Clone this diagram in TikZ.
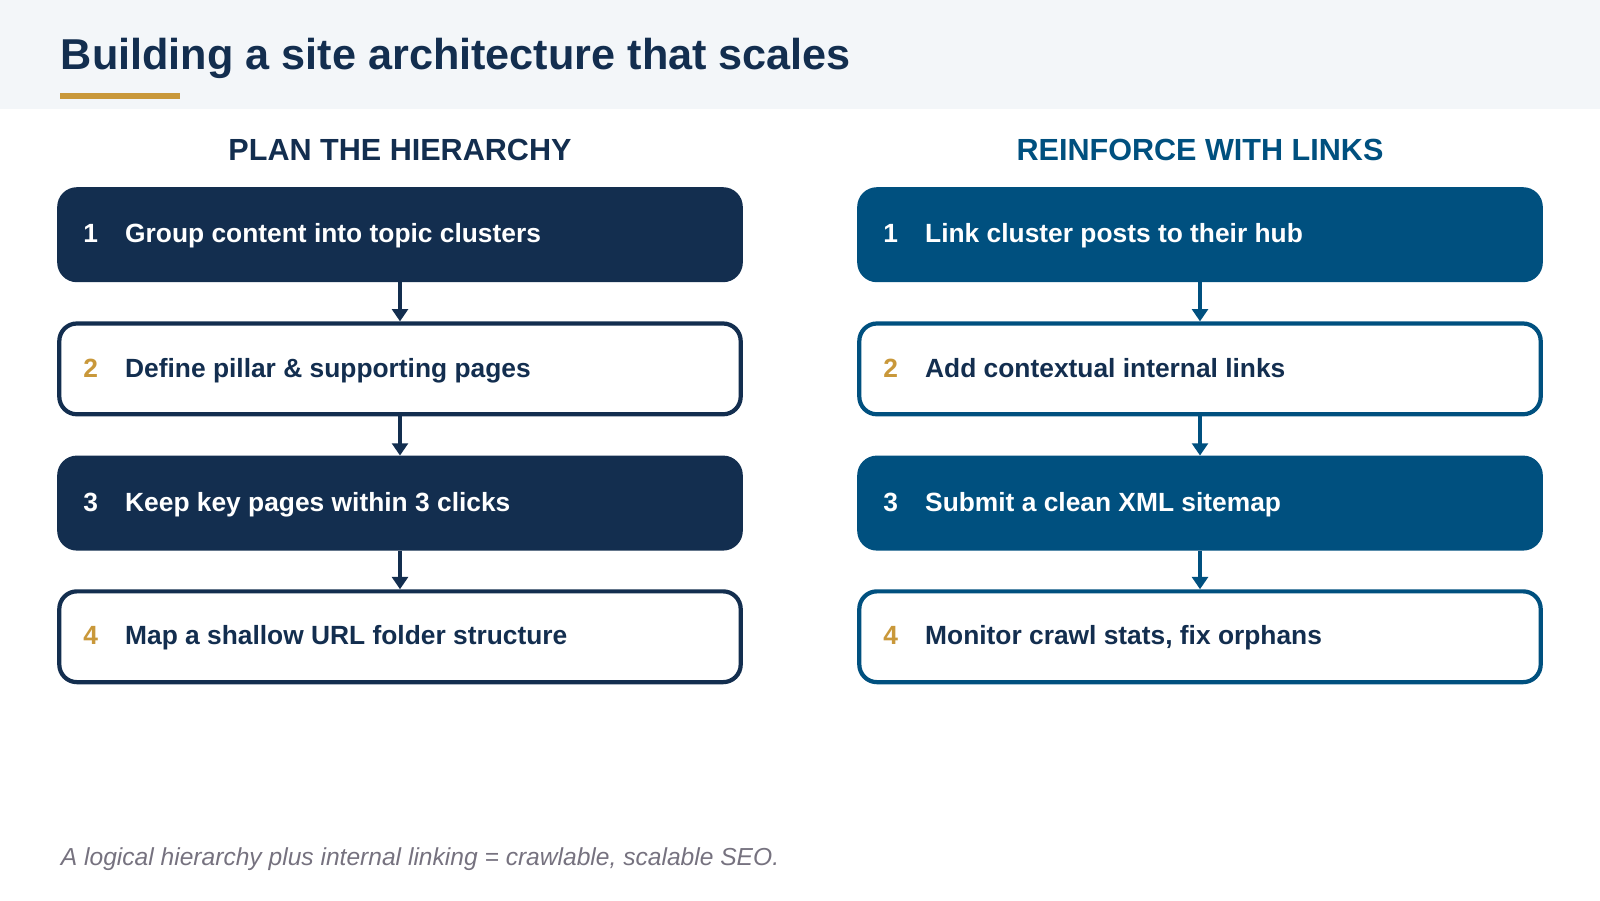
\documentclass[tikz,border=0pt]{standalone}
\usepackage{fontspec}
\setmainfont{Liberation Sans}
\usetikzlibrary{arrows.meta}
\definecolor{navy}{HTML}{132E4F}
\definecolor{blu}{HTML}{00507F}
\definecolor{gold}{HTML}{C9983A}
\definecolor{band}{HTML}{F3F6F9}
\definecolor{foot}{HTML}{76727F}
\begin{document}
\begin{tikzpicture}[x=0.010204cm,y=-0.010204cm,
  box/.style={draw=#1,line width=1.2pt,rounded corners=5pt,minimum width=6.68*1.0204cm,minimum height=0.89*1.0204cm,inner sep=0pt},
  filled/.style={box=#1,fill=#1},
  open/.style={box=#1,fill=white},
  num/.style={anchor=base west,inner sep=0pt,font=\fontsize{7.5pt}{9pt}\selectfont\bfseries},
  lbl/.style={anchor=base west,inner sep=0pt,font=\fontsize{7.5pt}{9pt}\selectfont\bfseries},
  arr/.style={draw=#1,line width=1.2pt,-{Triangle[length=3.5pt,width=4.5pt]}}]
\useasboundingbox (0,0) rectangle (1568,882);
\fill[band] (0,0) rectangle (1568,107);
\node[anchor=base west,inner sep=0,text=navy,font=\fontsize{12.3pt}{14pt}\selectfont\bfseries] (title) at (59,68) {Building a site architecture that scales};
\fill[gold] (59,91) rectangle (176,97);
\node[text=navy,font=\fontsize{8.7pt}{10pt}\selectfont\bfseries] (hl) at (392,147) {PLAN THE HIERARCHY};
\node[text=blu,font=\fontsize{8.7pt}{10pt}\selectfont\bfseries] (hr) at (1176,147) {REINFORCE WITH LINKS};
\node[filled=navy] (l1) at (392,230) {};
\node[open=navy] (l2) at (392,361.5) {};
\node[filled=navy] (l3) at (392,493) {};
\node[open=navy] (l4) at (392,624) {};
\node[filled=blu] (r1) at (1176,230) {};
\node[open=blu] (r2) at (1176,361.5) {};
\node[filled=blu] (r3) at (1176,493) {};
\node[open=blu] (r4) at (1176,624) {};
\foreach \a/\b in {l1/l2,l2/l3,l3/l4} \draw[arr=navy] (\a) -- (\b);
\foreach \a/\b in {r1/r2,r2/r3,r3/r4} \draw[arr=blu] (\a) -- (\b);
\node[num,text=white] (n1) at (81,238) {1};
\node[lbl,text=white] (t1) at (122,238) {Group content into topic clusters};
\node[num,text=gold] (n2) at (81,370) {2};
\node[lbl,text=navy] (t2) at (122,370) {Define pillar \& supporting pages};
\node[num,text=white] (n3) at (81,501) {3};
\node[lbl,text=white] (t3) at (122,501) {Keep key pages within 3 clicks};
\node[num,text=gold] (n4) at (81,632) {4};
\node[lbl,text=navy] (t4) at (122,632) {Map a shallow URL folder structure};
\node[num,text=white] (m1) at (865,238) {1};
\node[lbl,text=white] (u1) at (906,238) {Link cluster posts to their hub};
\node[num,text=gold] (m2) at (865,370) {2};
\node[lbl,text=navy] (u2) at (906,370) {Add contextual internal links};
\node[num,text=white] (m3) at (865,501) {3};
\node[lbl,text=white] (u3) at (906,501) {Submit a clean XML sitemap};
\node[num,text=gold] (m4) at (865,632) {4};
\node[lbl,text=navy] (u4) at (906,632) {Monitor crawl stats, fix orphans};
\node[anchor=base west,inner sep=0,text=foot,font=\fontsize{7pt}{8pt}\selectfont\itshape] (ft) at (59,848) {A logical hierarchy plus internal linking = crawlable, scalable SEO.};
\end{tikzpicture}
\end{document}
